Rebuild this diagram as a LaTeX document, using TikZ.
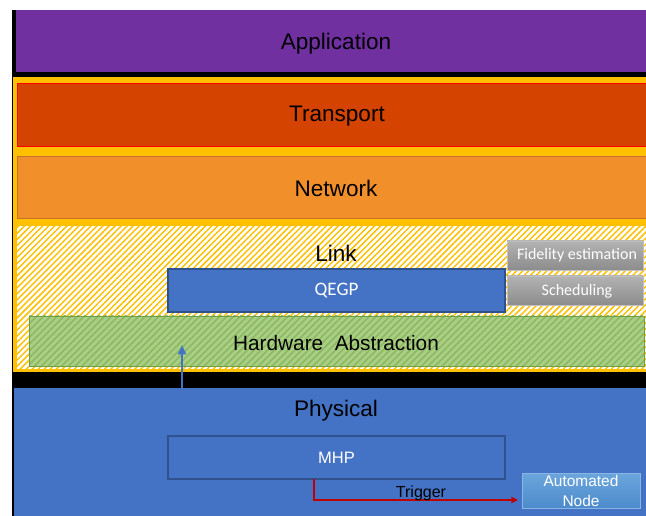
\documentclass[tikz,border=0pt]{standalone}
\usepackage{fontspec}
\setmainfont{Liberation Sans}
\newfontfamily\calib{Carlito}
\usetikzlibrary{patterns.meta,arrows.meta}

\definecolor{appPurple}{HTML}{7030A0}
\definecolor{gold}{HTML}{FFC000}
\definecolor{transRed}{HTML}{D54300}
\definecolor{netOrange}{HTML}{F1902A}
\definecolor{netEdge}{HTML}{C9702C}
\definecolor{office}{HTML}{4472C4}
\definecolor{officeEdge}{HTML}{2F528F}
\definecolor{hwGreen}{HTML}{A9CF84}
\definecolor{hwStripe}{HTML}{8DB862}
\definecolor{hwEdge}{HTML}{6E9E45}
\definecolor{trigRed}{HTML}{C00000}
\definecolor{autoTop}{HTML}{6BA5DC}
\definecolor{autoBot}{HTML}{4C8BCB}

\tikzset{
  layer/.style={rectangle, inner sep=0pt, outer sep=0pt, anchor=north west},
  lbl/.style={font=\fontsize{16.9pt}{19pt}\selectfont, text=black, inner sep=0pt},
  whitebox/.style={layer, fill=office, draw=officeEdge, line width=0.8pt,
    text=white},
  graybox/.style={layer, top color=black!30, bottom color=black!45,
    draw=black!25, line width=0.6pt, text=white,
    font=\calib\fontsize{12pt}{14pt}\selectfont},
}

\begin{document}
\begin{tikzpicture}[x=0.75pt, y=-0.75pt]
  \clip (0,0) rectangle (646,516);
  \fill[white] (0,0) rectangle (646,516);
  % black backing behind the whole stack
  \fill[black] (12,10) rectangle (660,516);

  % Application layer
  \node[layer, fill=appPurple, minimum width=640*0.75pt, minimum height=62*0.75pt]
    (app) at (16,10) {};
  \node[lbl] (applbl) at (336,43.5) {Application};

  % gold container for transport, network and link
  \node[layer, fill=gold, minimum width=647*0.75pt, minimum height=295*0.75pt]
    (gold) at (13,77) {};

  % Transport layer
  \node[layer, fill=transRed, draw=red, line width=0.6pt,
    minimum width=640*0.75pt, minimum height=63*0.75pt] (trans) at (17,83) {};
  \node[lbl] (translbl) at (337,116.5) {Transport};

  % Network layer
  \node[layer, fill=netOrange, draw=netEdge, line width=0.6pt,
    minimum width=640*0.75pt, minimum height=62*0.75pt] (net) at (17,156) {};
  \node[lbl] (netlbl) at (336,188.5) {Network};

  % Link layer: hatched area
  \node[layer, fill=white, minimum width=640*0.75pt, minimum height=143*0.75pt]
    (link) at (17,226) {};
  \fill[pattern={Lines[angle=45, distance=3.2pt, line width=1.1pt]},
    pattern color=gold] (link.north west) rectangle (link.south east);
  \node[lbl] (linklbl) at (336,253) {Link};

  % services of the link layer
  \node[graybox, minimum width=136*0.75pt, minimum height=29*0.75pt]
    (fid) at (507,241) {};
  \node[text=white, font=\calib\fontsize{12pt}{14pt}\selectfont, inner sep=0pt]
    (fidlbl) at (577,255.5) {Fidelity estimation};
  \node[graybox, minimum width=136*0.75pt, minimum height=29*0.75pt]
    (sched) at (507,276) {};
  \node[text=white, font=\calib\fontsize{12pt}{14pt}\selectfont, inner sep=0pt]
    (schedlbl) at (577,291) {Scheduling};

  % QEGP
  \node[whitebox, minimum width=337*0.75pt, minimum height=43*0.75pt]
    (qegp) at (168,269) {};
  \node[text=white, font=\calib\fontsize{14.3pt}{16pt}\selectfont, inner sep=0pt]
    (qegplbl) at (qegp.center) {QEGP};

  % Hardware abstraction
  \node[layer, fill=hwGreen, minimum width=615*0.75pt, minimum height=50*0.75pt]
    (hw) at (29,316) {};
  \fill[pattern={Lines[angle=45, distance=3.6pt, line width=1.2pt]},
    pattern color=hwStripe] (hw.north west) rectangle (hw.south east);
  \draw[hwEdge, line width=0.6pt] (hw.north west) rectangle (hw.south east);
  \node[lbl, font=\fontsize{15.6pt}{18pt}\selectfont] (hwlbl) at (336,343.5)
    {Hardware\ \ Abstraction};

  % Physical layer
  \node[layer, fill=office, minimum width=646*0.75pt, minimum height=128*0.75pt]
    (phys) at (14,388) {};
  \node[lbl] (physlbl) at (336,411) {Physical};

  % MHP
  \node[whitebox, minimum width=337*0.75pt, minimum height=43*0.75pt]
    (mhp) at (168,436) {};
  \node[text=white, font=\fontsize{12.4pt}{15pt}\selectfont, inner sep=0pt]
    (mhplbl) at (mhp.center) {MHP};

  % Automated node
  \node[layer, top color=autoTop, bottom color=autoBot, draw=autoTop!80!white,
    line width=0.6pt, minimum width=118*0.75pt, minimum height=35*0.75pt]
    (auto) at (522,473) {};
  \node[text=white, font=\fontsize{11.6pt}{14.5pt}\selectfont, inner sep=0pt,
    align=center] (autolbl) at (581,491) {Automated\\Node};

  % Trigger connector from MHP to the automated node
  \coordinate (tbend) at (314,500);
  \draw[trigRed, line width=1.3pt, -{Triangle[length=5pt, width=4.5pt]}]
    (mhp.south -| tbend) -- (tbend) -- ([xshift=-4*0.75pt]auto.west |- tbend);
  \node[anchor=base, inner sep=0pt, font=\fontsize{12pt}{14pt}\selectfont]
    (triglbl) at (421,497) {Trigger};

  % upward arrow from the physical layer into hardware abstraction
  \coordinate (hwtip) at (182,345);
  \draw[office, line width=1.6pt, -{Triangle[length=7pt, width=6pt]}]
    (phys.north -| hwtip) -- (hwtip);
\end{tikzpicture}
\end{document}
